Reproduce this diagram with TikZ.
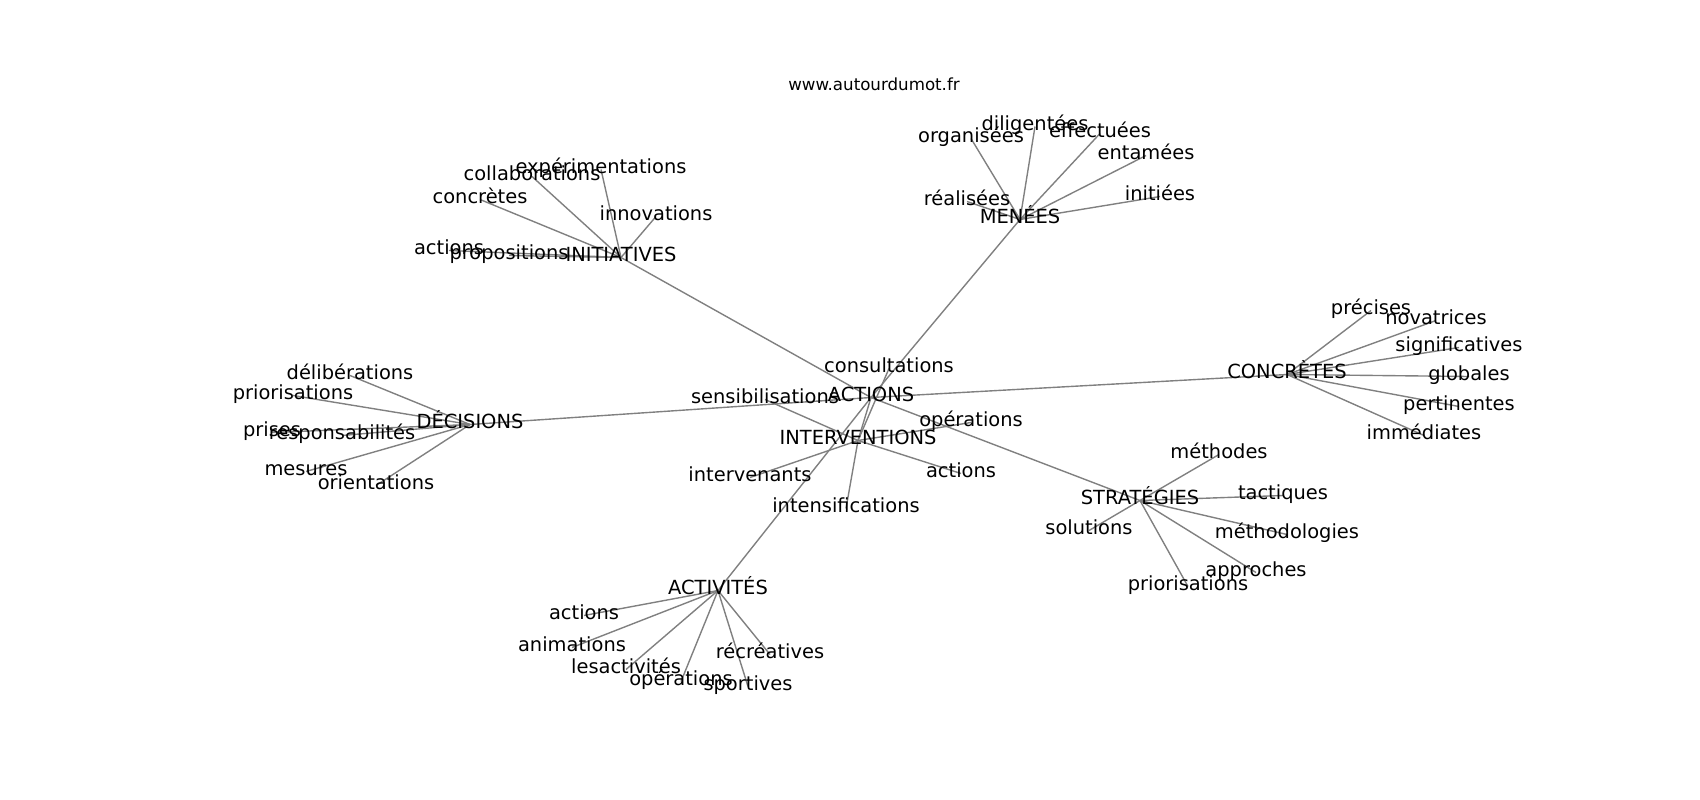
\documentclass[tikz,border=0pt]{standalone}
\usepackage{fontspec}
\setmainfont{DejaVu Sans}
\usetikzlibrary{backgrounds}
\begin{document}
\begin{tikzpicture}[x=1pt,y=-1pt,
  lbl/.style={font=\fontsize{19.44}{20}\selectfont, inner sep=0pt, text height=0.73em, text depth=0pt, anchor=center},
  ttl/.style={font=\fontsize{16.67}{17}\selectfont, inner sep=0pt, text height=0.73em, text depth=0pt, anchor=center},
  edge/.style={draw=gray, line width=1.39pt}]
\useasboundingbox (0,0) rectangle (1700,800);
\begin{scope}[shift={(0,3.5)}]
\node[ttl] (title) at (874,83) {www.autourdumot.fr};
% centre
\node[lbl] (ACT) at (871,394) {ACTIONS};
\node[lbl] (INT) at (858,437) {INTERVENTIONS};
\node[lbl] (consult) at (889,365) {consultations};
\node[lbl] (sensib) at (765,396) {sensibilisations};
\node[lbl] (interv) at (750,474) {intervenants};
\node[lbl] (intens) at (846,505) {intensifications};
\node[lbl] (opA) at (971,419) {opérations};
\node[lbl] (actA) at (961,470) {actions};
% initiatives
\node[lbl] (INI) at (621,254) {INITIATIVES};
\node[lbl] (collab) at (532,173) {collaborations};
\node[lbl] (exper) at (601,166) {expérimentations};
\node[lbl] (concr) at (480,196) {concrètes};
\node[lbl] (innov) at (656,213) {innovations};
\node[lbl] (actB) at (449,247) {actions};
\node[lbl] (propo) at (509,252) {propositions};
% menees
\node[lbl] (MEN) at (1020,216) {MENÉES};
\node[lbl] (organ) at (971,135) {organisées};
\node[lbl] (dilig) at (1035,123) {diligentées};
\node[lbl] (effec) at (1100,130) {effectuées};
\node[lbl] (entam) at (1146,152) {entamées};
\node[lbl] (initi) at (1160,193) {initiées};
\node[lbl] (reali) at (967,198) {réalisées};
% decisions
\node[lbl] (DEC) at (470,421) {DÉCISIONS};
\node[lbl] (delib) at (350,372) {délibérations};
\node[lbl] (prioA) at (293,392) {priorisations};
\node[lbl] (prises) at (272,429) {prises};
\node[lbl] (respo) at (342,432) {responsabilités};
\node[lbl] (mesur) at (306,468) {mesures};
\node[lbl] (orien) at (376,482) {orientations};
% concretes
\node[lbl] (CON) at (1287,371) {CONCRÈTES};
\node[lbl] (preci) at (1371,307) {précises};
\node[lbl] (novat) at (1436,317) {novatrices};
\node[lbl] (signi) at (1459,344) {significatives};
\node[lbl] (globa) at (1469,373) {globales};
\node[lbl] (perti) at (1459,403) {pertinentes};
\node[lbl] (immed) at (1424,432) {immédiates};
% strategies
\node[lbl] (STR) at (1140,497) {STRATÉGIES};
\node[lbl] (metho) at (1219,451) {méthodes};
\node[lbl] (tacti) at (1283,492) {tactiques};
\node[lbl] (solut) at (1089,527) {solutions};
\node[lbl] (metdo) at (1287,531) {méthodologies};
\node[lbl] (appro) at (1256,569) {approches};
\node[lbl] (prioB) at (1188,583) {priorisations};
% activites
\node[lbl] (ACV) at (718,587) {ACTIVITÉS};
\node[lbl] (actC) at (584,612) {actions};
\node[lbl] (anima) at (572,644) {animations};
\node[lbl] (lesac) at (626,666) {lesactivités};
\node[lbl] (opB) at (681,678) {opérations};
\node[lbl] (recre) at (770,651) {récréatives};
\node[lbl] (sport) at (748,683) {sportives};
\end{scope}
\begin{scope}[on background layer]
\fill[white] (0,0) rectangle (1700,800);
\foreach \a/\b in {ACT/INT,ACT/INI,ACT/MEN,ACT/DEC,ACT/CON,ACT/STR,ACT/ACV,
  INT/consult,INT/sensib,INT/interv,INT/intens,INT/opA,INT/actA,
  INI/collab,INI/exper,INI/concr,INI/innov,INI/actB,INI/propo,
  MEN/organ,MEN/dilig,MEN/effec,MEN/entam,MEN/initi,MEN/reali,
  DEC/delib,DEC/prioA,DEC/prises,DEC/respo,DEC/mesur,DEC/orien,
  CON/preci,CON/novat,CON/signi,CON/globa,CON/perti,CON/immed,
  STR/metho,STR/tacti,STR/solut,STR/metdo,STR/appro,STR/prioB,
  ACV/actC,ACV/anima,ACV/lesac,ACV/opB,ACV/recre,ACV/sport}
  \draw[edge] (\a.center) -- (\b.center);
\end{scope}
\end{tikzpicture}
\end{document}
